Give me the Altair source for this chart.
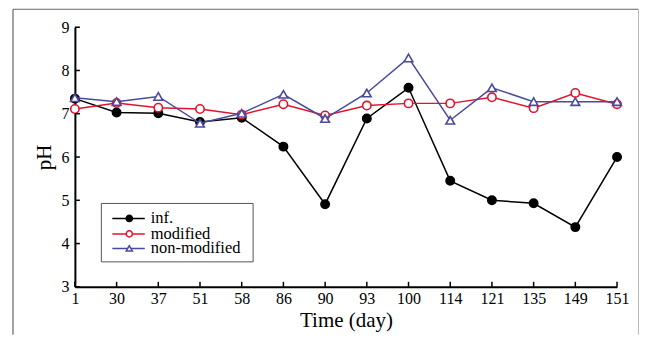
import altair as alt
import pandas as pd

days = ["1", "30", "37", "51", "58", "86", "90", "93", "100", "114", "121", "135", "149", "151"]
inf = [7.35, 7.03, 7.01, 6.81, 6.91, 6.24, 4.91, 6.89, 7.60, 5.45, 5.00, 4.93, 4.38, 6.00]
modified = [7.11, 7.25, 7.14, 7.11, 6.98, 7.22, 6.96, 7.19, 7.24, 7.24, 7.38, 7.13, 7.48, 7.22]
nonmod = [7.37, 7.28, 7.40, 6.78, 7.01, 7.45, 6.89, 7.48, 8.29, 6.85, 7.60, 7.28, 7.28, 7.28]
series_names = ["inf.", "modified", "non-modified"]
y_ticks = [3, 4, 5, 6, 7, 8, 9]

colors = ["#000000", "#e3122d", "#4a4a9e"]
shapes = ["circle", "circle", "triangle-up"]
fills = ["#000000", "#ffffff", "#ffffff"]

rows = []
for name, vals in zip(series_names, [inf, modified, nonmod]):
    for d, v in zip(days, vals):
        rows.append({"series": name, "day": d, "pH": v})
df = pd.DataFrame(rows)

W, H = 543, 260
FONT = "Liberation Serif, Times New Roman, serif"

x_scale = alt.Scale(type="point", padding=0, domain=days)
x_enc = alt.X("day:N", sort=days, scale=x_scale,
              axis=alt.Axis(title="Time (day)", labelAngle=0, ticks=False, labelPadding=4,
                            titlePadding=3, domainWidth=2, domainColor="black", grid=False,
                            labelFont=FONT, titleFont=FONT))
y_enc = alt.Y("pH:Q", scale=alt.Scale(domain=[3, 9], nice=False, zero=False),
              axis=alt.Axis(title="pH", values=y_ticks, ticks=False, labelPadding=6,
                            titlePadding=6, domainWidth=2, domainColor="black", grid=False,
                            labelFont=FONT, titleFont=FONT))

layers = []
one = pd.DataFrame({"a": [0]})
RX = 564.5
# outer frame
layers.append(alt.Chart(one).mark_rule(color="#666", strokeWidth=1).encode(
    x=alt.value(-62), x2=alt.value(RX), y=alt.value(-18)))
layers.append(alt.Chart(one).mark_rule(color="#444", strokeWidth=1).encode(
    x=alt.value(-62), y=alt.value(-18), y2=alt.value(308)))
layers.append(alt.Chart(one).mark_rule(color="#bbb", strokeWidth=1).encode(
    x=alt.value(RX), y=alt.value(-18), y2=alt.value(308)))

for name, c, s, f in zip(series_names, colors, shapes, fills):
    base = alt.Chart(df).transform_filter(alt.datum.series == name)
    layers.append(base.mark_line(color=c, strokeWidth=1.5).encode(x=x_enc, y=y_enc))
    layers.append(base.mark_point(shape=s, fill=f, stroke=c, strokeWidth=1.6, opacity=1,
                                  filled=False, size=70 if s == "circle" else 75).encode(x=x_enc, y=y_enc))

# inward ticks
xt = pd.DataFrame({"day": days, "pH": [3] * len(days)})
layers.append(alt.Chart(xt).mark_rule(color="black", strokeWidth=1.5).encode(
    x=alt.X("day:N", sort=days, scale=x_scale), y=alt.Y("pH:Q"), y2=alt.value(H - 5)))
yt = pd.DataFrame({"pH": y_ticks})
layers.append(alt.Chart(yt).mark_rule(color="black", strokeWidth=1.5).encode(
    y=alt.Y("pH:Q"), x=alt.value(0), x2=alt.value(5)))

# legend box
layers.append(alt.Chart(one).mark_rect(fill="white", stroke="#555", strokeWidth=1).encode(
    x=alt.value(26.5), x2=alt.value(178.5), y=alt.value(176.5), y2=alt.value(235)))
leg_y = [191.5, 207, 221.5]
for name, c, s, f, ly in zip(series_names, colors, shapes, fills, leg_y):
    layers.append(alt.Chart(one).mark_rule(color=c, strokeWidth=1.5).encode(
        x=alt.value(37.5), x2=alt.value(70), y=alt.value(ly)))
    layers.append(alt.Chart(one).mark_point(shape=s, fill=f, stroke=c, strokeWidth=1.5, opacity=1,
                                            filled=False, size=38).encode(
        x=alt.value(54.5), y=alt.value(ly)))
    layers.append(alt.Chart(pd.DataFrame({"t": [name]})).mark_text(
        align="left", baseline="middle", font=FONT, fontSize=16.5, color="black").encode(
        x=alt.value(76), y=alt.value(ly), text="t:N"))

chart = alt.layer(*layers).properties(
    width=W, height=H,
    autosize=alt.AutoSizeParams(type="pad"),
    padding={"left": 4, "top": 0, "right": 0, "bottom": 0},
    background="white",
).configure_view(stroke=None).configure_axis(
    labelFont=FONT, titleFont=FONT, labelFontSize=16, titleFontSize=21,
    labelColor="black", titleColor="black", titleFontWeight="normal",
)

chart.save("out.html", embed_options={"renderer": "svg", "actions": False})
